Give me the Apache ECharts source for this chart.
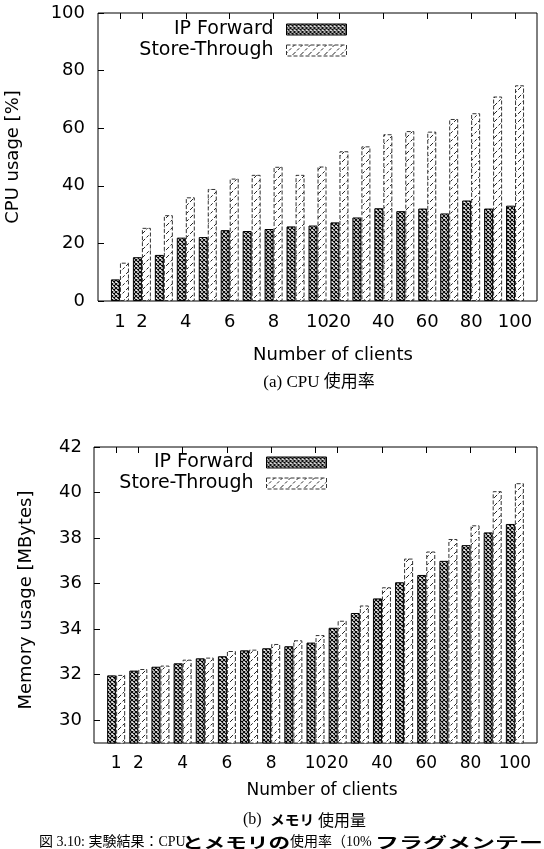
<!DOCTYPE html>
<html lang="ja">
<head>
<meta charset="UTF-8">
<title>CPU / Memory usage</title>
<script src="https://cdn.jsdelivr.net/npm/echarts@6/dist/echarts.min.js"></script>
<style>
	html, body{
		margin: 0;
		padding: 0;
		background: #fff;
	}
	#main{
		width: 544px;
		height: 849px;
	}
</style>
</head>
<body>
<div id="main"></div>
<script>
	// number of clients (x categories)
	var clients = ['1', '2', '3', '4', '5', '6', '7', '8', '9', '10', '20', '30', '40', '50', '60', '70', '80', '90', '100'];
	var shownLabels = ['1', '2', '4', '6', '8', '10', '20', '40', '60', '80', '100'];

	// (a) CPU usage [%]
	var cpuForward = [7.5, 15.2, 16.0, 22.0, 22.2, 24.6, 24.3, 25.0, 25.9, 26.2, 27.3, 29.0, 32.2, 31.2, 32.1, 30.4, 34.9, 32.1, 33.1];
	var cpuStore = [13.3, 25.4, 29.8, 36.0, 38.9, 42.5, 43.8, 46.6, 43.8, 46.7, 52.0, 53.7, 57.9, 59.0, 58.8, 63.2, 65.2, 71.0, 74.9];

	// (b) memory usage [MBytes]
	var memForward = [31.97, 32.18, 32.35, 32.5, 32.72, 32.81, 33.07, 33.16, 33.25, 33.41, 34.06, 34.71, 35.35, 36.06, 36.38, 37.0, 37.69, 38.25, 38.62];
	var memStore = [31.99, 32.25, 32.4, 32.66, 32.75, 33.04, 33.1, 33.35, 33.51, 33.74, 34.37, 35.04, 35.84, 37.1, 37.41, 37.96, 38.56, 40.06, 40.41];

	var cpuTicks = [0, 20, 40, 60, 80, 100];
	var memTicks = [30, 32, 34, 36, 38, 40, 42];

	var font = 'DejaVu Sans';
	var serif = '"Liberation Serif", "Noto Sans CJK JP"';
	var gothic = '"Noto Sans CJK JP"';

	// one empty slot at each end, like gnuplot's xrange [-1:19]
	var xData = [''].concat(clients, [' ']);
	function pad(arr){
		return ['-'].concat(arr, ['-']);
	}
	function showTick(i, v){
		return shownLabels.indexOf(v) >= 0;
	}

	// fill patterns
	function crossPattern(){
		var c = document.createElement('canvas');
		c.width = 4; c.height = 4;
		var g = c.getContext('2d');
		g.fillStyle = '#f4f4f4';
		g.fillRect(0, 0, 4, 4);
		g.strokeStyle = '#000';
		g.lineWidth = 1.1;
		g.beginPath();
		g.moveTo(0, 0); g.lineTo(4, 4);
		g.moveTo(0, 4); g.lineTo(4, 0);
		g.stroke();
		return c;
	}
	function slashPattern(){
		var c = document.createElement('canvas');
		c.width = 8; c.height = 8;
		var g = c.getContext('2d');
		g.fillStyle = '#fff';
		g.fillRect(0, 0, 8, 8);
		g.strokeStyle = '#222';
		g.lineWidth = 1;
		g.setLineDash([3, 2]);
		g.beginPath();
		g.moveTo(-1, 9); g.lineTo(9, -1);
		g.stroke();
		return c;
	}
	var fwdStyle = {
		color: {image: crossPattern(), repeat: 'repeat'},
		borderColor: '#000',
		borderWidth: 1
	};
	var storeStyle = {
		color: {image: slashPattern(), repeat: 'repeat'},
		borderColor: '#333',
		borderWidth: 1,
		borderType: 'dashed'
	};

	function bottomAxis(grid, size){
		return {
			type: 'category', gridIndex: grid, data: xData, boundaryGap: false,
			axisLine: {show: false},
			axisTick: {show: false},
			axisLabel: {interval: showTick, color: '#000', fontFamily: font, fontSize: size, margin: 12},
			splitLine: {show: false}
		};
	}
	function topAxis(grid){
		return {
			type: 'category', gridIndex: grid, data: xData, boundaryGap: false, position: 'top',
			axisLine: {show: false},
			axisTick: {show: true, inside: true, length: 6, interval: showTick, lineStyle: {color: '#000'}},
			axisLabel: {show: false},
			splitLine: {show: false}
		};
	}
	function legend(top, right){
		return {
			top: top, right: right, orient: 'vertical', align: 'right',
			padding: 0, itemGap: 0, itemWidth: 60, itemHeight: 11,
			icon: 'rect',
			textStyle: {color: '#000', fontFamily: font, fontSize: 19, lineHeight: 21, padding: [0, 8, 0, 0]},
			data: [
				{name: 'IP Forward', itemStyle: fwdStyle},
				{name: 'Store-Through', itemStyle: storeStyle}
			]
		};
	}
	function bar(name, data, xi, yi, style){
		return {
			name: name, type: 'bar', xAxisIndex: xi, yAxisIndex: yi,
			data: pad(data), barWidth: 9, barGap: '0%',
			itemStyle: style
		};
	}
	function txt(x, y, s, f, opt){
		var o = {type: 'text', x: x, y: y,
			style: {text: s, fill: '#000', font: f, align: 'left', verticalAlign: 'middle'}};
		for(var k in (opt || {})) o[k] = opt[k];
		return o;
	}

	var myChart = echarts.init(document.getElementById('main'));
	myChart.setOption({
		animation: false,
		backgroundColor: '#fff',
		grid: [
			{left: 98, top: 13, width: 439, height: 288, show: true, borderColor: '#000', borderWidth: 1},
			{left: 94, top: 447, width: 443, height: 296, show: true, borderColor: '#000', borderWidth: 1}
		],
		legend: [legend(19, 197), legend(452, 217)],
		xAxis: [bottomAxis(0, 18), topAxis(0), bottomAxis(1, 17), topAxis(1)],
		yAxis: [
			{
				type: 'value', gridIndex: 0, min: 0, max: 100, interval: 20,
				axisLine: {show: false},
				axisTick: {show: true, inside: true, length: 6, lineStyle: {color: '#000'}},
				axisLabel: {color: '#000', fontFamily: font, fontSize: 18, margin: 13, customValues: cpuTicks},
				splitLine: {show: false}
			},
			{
				type: 'value', gridIndex: 1, min: 29, max: 42,
				axisLine: {show: false},
				axisTick: {show: true, inside: true, length: 6, lineStyle: {color: '#000'}, customValues: memTicks},
				axisLabel: {color: '#000', fontFamily: font, fontSize: 18, margin: 12, customValues: memTicks},
				splitLine: {show: false}
			}
		],
		series: [
			bar('IP Forward', cpuForward, 0, 0, fwdStyle),
			bar('Store-Through', cpuStore, 0, 0, storeStyle),
			bar('IP Forward', memForward, 2, 1, fwdStyle),
			bar('Store-Through', memStore, 2, 1, storeStyle)
		],
		graphic: [
			{type: 'text', x: 13, y: 157, rotation: Math.PI / 2,
				style: {text: 'CPU usage [%]', fill: '#000', font: '18px "DejaVu Sans"', align: 'center', verticalAlign: 'middle'}},
			{type: 'text', x: 333, y: 355,
				style: {text: 'Number of clients', fill: '#000', font: '18px "DejaVu Sans"', align: 'center', verticalAlign: 'middle'}},
			{type: 'text', x: 319, y: 383,
				style: {text: '(a) CPU 使用率', fill: '#000', font: '17px ' + serif, align: 'center', verticalAlign: 'middle'}},
			{type: 'text', x: 26, y: 600, rotation: Math.PI / 2,
				style: {text: 'Memory usage [MBytes]', fill: '#000', font: '18px "DejaVu Sans"', align: 'center', verticalAlign: 'middle'}},
			{type: 'text', x: 322, y: 791,
				style: {text: 'Number of clients', fill: '#000', font: '17px "DejaVu Sans"', align: 'center', verticalAlign: 'middle'}},
			// (b) caption
			txt(243, 820, '(b)', '16px ' + serif),
			txt(270, 820, 'メモリ', 'bold 14px ' + gothic, {scaleX: 1.05}),
			txt(318, 820, '使用量', '16px ' + gothic),
			// figure caption, runs off the right edge
			txt(39, 842, '図 3.10: 実験結果：CPU', '14px ' + serif),
			txt(182, 842, 'とメモリの', 'bold 15px ' + gothic, {scaleX: 1.44}),
			txt(290, 842, '使用率（10%', '14px ' + serif),
			txt(375, 842, 'フラグメンテーション', 'bold 15px ' + gothic, {scaleX: 1.6})
		]
	});
</script>
</body>
</html>
